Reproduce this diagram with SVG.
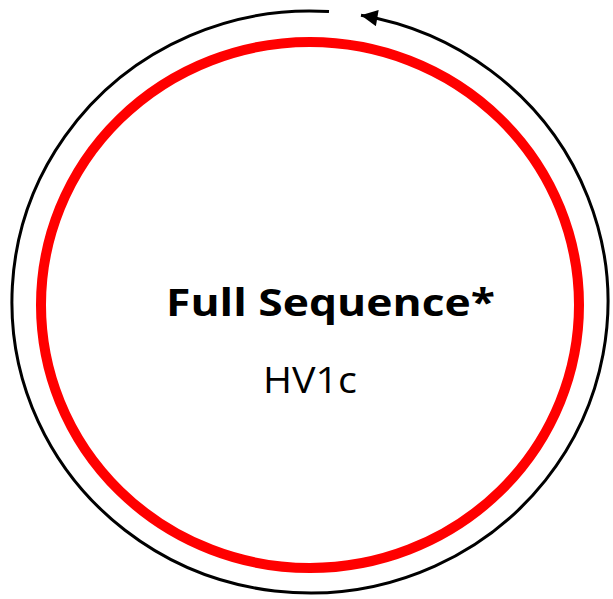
<svg xmlns="http://www.w3.org/2000/svg" width="613" height="599" viewBox="0 0 613 599">
  <style>
    .ring { fill: none; stroke: #ff0000; stroke-width: 10; }
    .track { fill: none; stroke: #000000; stroke-width: 3; }
    .title { font-family: "Open Sans", "Liberation Sans", sans-serif; font-weight: bold; font-size: 37px; fill: #000000; }
    .sub { font-family: "Open Sans", "Liberation Sans", sans-serif; font-size: 36px; fill: #000000; }
  </style>
  <defs>
    <marker id="arrow" viewBox="0 0 10 10" refX="10" refY="5" markerWidth="6.5" markerHeight="5.5" orient="auto" markerUnits="strokeWidth">
      <path d="M0,0 L10,5 L0,10 z" fill="#000000"/>
    </marker>
  </defs>
  <rect width="613" height="599" fill="#ffffff"/>
  <g id="connectors">
    <!-- outer track: ellipse centre (310,302), radii 298 x 291, open at the top -->
    <path class="track" d="M 329 11.59 A 298 291 0 1 0 361 15.3" marker-end="url(#arrow)"/>
  </g>
  <g id="sequence">
    <ellipse class="ring" cx="310" cy="305" rx="269" ry="263"/>
    <text class="title" x="166" y="316" textLength="329" lengthAdjust="spacingAndGlyphs">Full Sequence*</text>
    <text class="sub" x="263" y="393" textLength="94" lengthAdjust="spacingAndGlyphs">HV1c</text>
  </g>
</svg>
